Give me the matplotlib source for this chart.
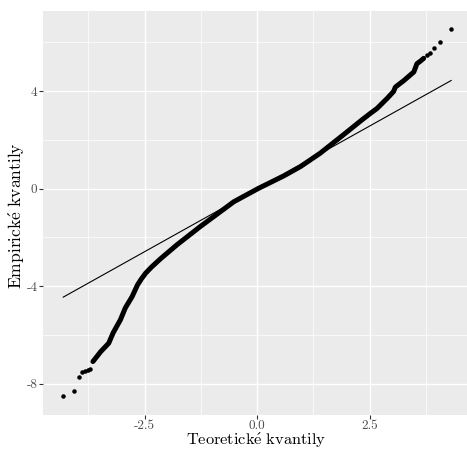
import numpy as np
import matplotlib
matplotlib.use('Agg')
import matplotlib.pyplot as plt

# dense part of the QQ curve (theoretical, empirical quantiles)
body_x = [-3.65, -3.48, -3.30, -3.20, -3.04, -2.93, -2.78, -2.66, -2.58, -2.48,
          -2.35, -2.15, -1.78, -1.26, -1.04, -0.52, 0.03, 0.59, 0.96, 1.40,
          1.96, 2.33, 2.52, 2.66, 2.89, 3.03, 3.07, 3.26, 3.48, 3.55, 3.63, 3.70]
body_y = [-7.09, -6.69, -6.34, -5.91, -5.38, -4.89, -4.43, -3.95, -3.72, -3.47,
          -3.22, -2.88, -2.30, -1.55, -1.25, -0.54, 0.01, 0.52, 0.90, 1.45,
          2.27, 2.82, 3.09, 3.28, 3.70, 3.98, 4.16, 4.43, 4.78, 5.12, 5.23, 5.34]

# sparse tail points
tail_x = [-4.32, -4.08, -3.95, -3.89, -3.82, -3.75, -3.71,
          3.77, 3.85, 3.94, 4.06, 4.31]
tail_y = [-8.52, -8.29, -7.73, -7.50, -7.47, -7.43, -7.39,
          5.46, 5.57, 5.78, 6.00, 6.53]

# reference line
line_x = [-4.31, 4.31]
line_y = [-4.45, 4.43]

xticks = [-2.5, 0.0, 2.5]
xticklabels = ['-2.5', '0.0', '2.5']
yticks = [-8, -4, 0, 4]
yticklabels = ['-8', '-4', '0', '4']

plt.rcParams['mathtext.fontset'] = 'cm'

W, H = 467, 449
fig = plt.figure(figsize=(W/100, H/100), dpi=100)
ax = fig.add_axes([43/W, 34.3/H, 427.5/W, 403.7/H])
ax.set_facecolor('#EBEBEB')
for s in ax.spines.values():
    s.set_visible(False)

ax.set_xlim(-4.76, 4.74)
ax.set_ylim(-9.27, 7.28)

# grid
for v in [-3.75, -1.25, 1.25, 3.75]:
    ax.axvline(v, color='white', lw=0.5, zorder=0)
for v in [-6, -2, 2, 6]:
    ax.axhline(v, color='white', lw=0.5, zorder=0)
for v in xticks:
    ax.axvline(v, color='white', lw=1.0, zorder=0)
for v in yticks:
    ax.axhline(v, color='white', lw=1.0, zorder=0)

ax.plot(body_x, body_y, color='black', lw=3.6, solid_capstyle='round',
        solid_joinstyle='round', zorder=2)
ax.scatter(tail_x, tail_y, s=10.5, color='black', linewidths=0, zorder=2)
ax.plot(line_x, line_y, color='black', lw=0.8, zorder=3)

ax.set_xticks(xticks)
ax.set_xticklabels(xticklabels, fontfamily='cmr10')
ax.set_yticks(yticks)
ax.set_yticklabels(yticklabels, fontfamily='cmr10')
ax.tick_params(axis='both', colors='#333333', length=3, width=0.8,
               labelsize=9.5, labelcolor='#4D4D4D', pad=1)

fig.text(256.5/W, 1 - 445/H, r'$\mathrm{Teoretick\acute{e}\ kvantily}$',
         fontsize=11.8, ha='center', va='baseline')
fig.text(16.5/W, 1 - 216/H, r'$\mathrm{Empirick\acute{e}\ kvantily}$',
         fontsize=12.6, ha='center', va='center', rotation=90)

plt.savefig('out.png', dpi=100)
